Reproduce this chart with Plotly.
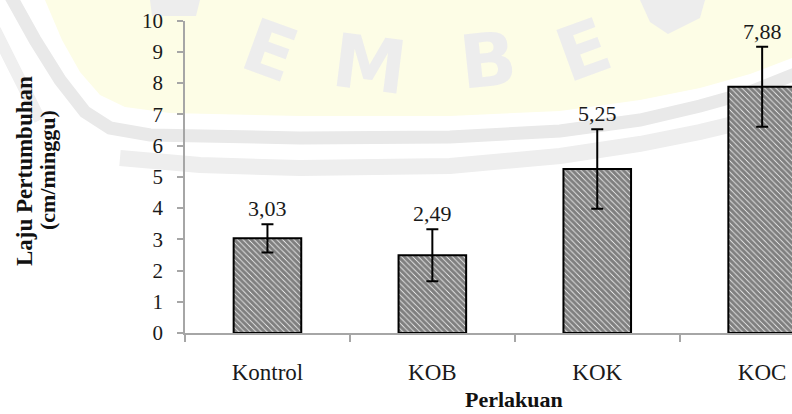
import plotly.graph_objects as go

# ---- data ----
categories = ["Kontrol", "KOB", "KOK", "KOC"]
means = [3.03, 2.49, 5.25, 7.88]
errors = [0.45, 0.83, 1.27, 1.28]
value_labels = ["3,03", "2,49", "5,25", "7,88"]
y_ticks = list(range(0, 11))

W, H = 792, 414
SERIF = "Times New Roman, Liberation Serif, serif"


def px(x):
    return x / W


def py(y):
    return 1 - y / H


def path_from(points):
    s = "M {:.4f} {:.4f}".format(px(points[0][0]), py(points[0][1]))
    for x, y in points[1:]:
        s += " L {:.4f} {:.4f}".format(px(x), py(y))
    return s


fig = go.Figure()

fig.add_trace(go.Bar(
    x=categories,
    y=means,
    width=0.41,
    marker=dict(
        color="white",
        line=dict(color="black", width=2),
        pattern=dict(shape="\\", fgcolor="#000000", bgcolor="white",
                     size=4, solidity=0.8),
    ),
    error_y=dict(type="data", array=errors, visible=True,
                 color="black", thickness=2, width=6),
    hoverinfo="skip",
    showlegend=False,
))

annotations = []
for c, m, e, t in zip(categories, means, errors, value_labels):
    annotations.append(dict(
        x=c, y=m + e, xref="x", yref="y", text=t, showarrow=False,
        yanchor="bottom", yshift=1,
        font=dict(family=SERIF, size=22, color="#1a1a1a"),
    ))

# axis titles
annotations += [
    dict(x=px(24), y=py(171), xref="paper", yref="paper",
         text="<b>Laju Pertumbuhan</b>", textangle=-90, showarrow=False,
         xanchor="center", yanchor="middle",
         font=dict(family=SERIF, size=23, color="#111")),
    dict(x=px(47), y=py(170), xref="paper", yref="paper",
         text="<b>(cm/minggu)</b>", textangle=-90, showarrow=False,
         xanchor="center", yanchor="middle",
         font=dict(family=SERIF, size=22, color="#111")),
    dict(x=px(514), y=py(414), xref="paper", yref="paper",
         text="<b>Perlakuan</b>", showarrow=False,
         xanchor="center", yanchor="bottom",
         font=dict(family=SERIF, size=22, color="#111")),
]

# watermark letters (faint)
wm = [("E", 270, 50, 20), ("M", 370, 64, 7),
      ("B", 488, 60, -6), ("E", 583, 50, -20)]
for ch, x, y, a in wm:
    annotations.append(dict(
        x=px(x), y=py(y), xref="paper", yref="paper", text="<b>" + ch + "</b>",
        showarrow=False, textangle=a, xanchor="center", yanchor="middle",
        font=dict(family="DejaVu Sans", size=74, color="#ededed"),
    ))

# watermark shapes
yellow = [(45, 0), (62, 40), (80, 72), (100, 95), (125, 107), (170, 113),
          (300, 116), (450, 116), (560, 111), (640, 100), (700, 88),
          (750, 74), (792, 58), (792, 0)]
band1 = [(10, -5), (35, 40), (60, 80), (85, 112), (110, 128), (150, 135),
         (300, 138), (450, 137), (560, 131), (640, 120), (700, 106),
         (750, 92), (800, 72)]
band2 = [(120, 158), (200, 165), (300, 168), (450, 166), (560, 156),
         (640, 144), (700, 132), (750, 120), (800, 106)]
band0 = [(-5, 30), (20, 80), (40, 120)]
jmark = [(150, 0), (200, 0), (196, 16), (152, 16)]
# partial "R" at the top edge, drawn as a faint block
rmark = [(640, 0), (705, 0), (700, 18), (668, 34), (650, 22)]

shapes = [
    dict(type="path", xref="paper", yref="paper", layer="below",
         path=path_from(yellow) + " Z", fillcolor="#fdfde6",
         line=dict(width=0)),
    dict(type="path", xref="paper", yref="paper", layer="below",
         path=path_from(jmark) + " Z", fillcolor="#ededed",
         line=dict(width=0)),
    dict(type="path", xref="paper", yref="paper", layer="below",
         path=path_from(rmark) + " Z", fillcolor="#ededed",
         line=dict(width=0)),
    dict(type="path", xref="paper", yref="paper", layer="below",
         path=path_from(band1), fillcolor="rgba(0,0,0,0)",
         line=dict(color="#e9e9e9", width=13)),
    dict(type="path", xref="paper", yref="paper", layer="below",
         path=path_from(band2), fillcolor="rgba(0,0,0,0)",
         line=dict(color="#eeeeee", width=16)),
    dict(type="path", xref="paper", yref="paper", layer="below",
         path=path_from(band0), fillcolor="rgba(0,0,0,0)",
         line=dict(color="#efefef", width=12)),
]

fig.update_layout(
    width=W, height=H,
    margin=dict(l=0, r=0, t=0, b=0, pad=0, autoexpand=False),
    paper_bgcolor="white",
    plot_bgcolor="rgba(0,0,0,0)",
    font=dict(family=SERIF),
    annotations=annotations,
    shapes=shapes,
    xaxis=dict(
        domain=[px(185), 1],
        range=[-0.5, (W - 185) / 164.9 - 0.5],
        type="category",
        automargin=False,
        showline=True, linecolor="#a6a6a6", linewidth=1.5,
        ticks="outside", tickson="boundaries", ticklen=7,
        tickcolor="#a6a6a6", tickwidth=1.5,
        tickfont=dict(family=SERIF, size=23, color="#1a1a1a"),
        ticklabelstandoff=18,
        ticklabeloverflow="allow",
        showgrid=False, zeroline=False,
    ),
    yaxis=dict(
        domain=[py(333), py(20.5)],
        range=[0, 10],
        automargin=False,
        tickvals=y_ticks,
        showline=True, linecolor="#a6a6a6", linewidth=1.5,
        ticks="outside", ticklen=6, tickcolor="#a6a6a6", tickwidth=1.5,
        tickfont=dict(family=SERIF, size=21, color="#1a1a1a"),
        ticklabelstandoff=10,
        showgrid=False, zeroline=False,
    ),
)

fig.write_html(
    "out.html",
    config={"displayModeBar": False},
    post_script="document.body.style.margin='0px';"
                "document.body.style.overflow='hidden';",
)
